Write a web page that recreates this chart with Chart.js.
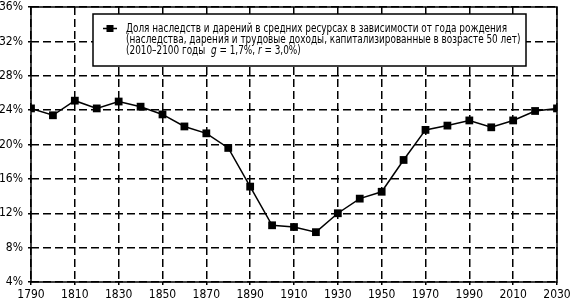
<!DOCTYPE html>
<html>
<head>
<meta charset="utf-8">
<script src="https://cdn.jsdelivr.net/npm/chart.js@4"></script>
<style>
  html, body { margin: 0; padding: 0; background: #fff; }
  #wrap { width: 570px; height: 304px; }
</style>
</head>
<body>
<div id="wrap"><canvas id="chart" width="570" height="304"></canvas></div>
<script>
// Birth cohort years and share of inheritance in total resources (%)
const years = [1790, 1800, 1810, 1820, 1830, 1840, 1850, 1860, 1870, 1880, 1890, 1900, 1910,
  1920, 1930, 1940, 1950, 1960, 1970, 1980, 1990, 2000, 2010, 2020, 2030];
const shares = [24.2, 23.4, 25.1, 24.2, 25.0, 24.4, 23.5, 22.1, 21.3, 19.6, 15.1, 10.6, 10.4,
  9.8, 12.0, 13.7, 14.5, 18.2, 21.7, 22.2, 22.8, 22.0, 22.8, 23.9, 24.2];
const xTicks = [1790, 1810, 1830, 1850, 1870, 1890, 1910, 1930, 1950, 1970, 1990, 2010, 2030];
const yTicks = [4, 8, 12, 16, 20, 24, 28, 32, 36];

const legendLines = [
  'Доля наследств и дарений в средних ресурсах в зависимости от года рождения',
  '(наследства, дарения и трудовые доходы, капитализированные в возрасте 50 лет)'
];
// third legend line, with italic symbols
const legendLine3 = [
  ['(2010–2100 годы  ', false], ['g', true], [' = 1,7%, ', false], ['r', true], [' = 3,0%)', false]
];

const FONT = "'Liberation Sans Narrow', 'DejaVu Sans Condensed', sans-serif";

// Solid frame round the plot area
const framePlugin = {
  id: 'frame',
  beforeDatasetsDraw(chart) {
    const a = chart.chartArea, ctx = chart.ctx;
    ctx.save();
    ctx.strokeStyle = '#000';
    ctx.lineWidth = 1.5;
    ctx.strokeRect(a.left, a.top, a.right - a.left, a.bottom - a.top);
    ctx.restore();
  }
};

// Boxed legend with three lines of text
const boxLegendPlugin = {
  id: 'boxLegend',
  afterDatasetsDraw(chart) {
    const ctx = chart.ctx;
    const bx = 93, by = 14, bw = 433, bh = 52;
    ctx.save();
    ctx.fillStyle = '#fff';
    ctx.fillRect(bx, by, bw, bh);
    ctx.strokeStyle = '#000';
    ctx.lineWidth = 1.5;
    ctx.strokeRect(bx, by, bw, bh);

    // marker
    const my = 28.5;
    ctx.beginPath();
    ctx.moveTo(103, my);
    ctx.lineTo(117, my);
    ctx.lineWidth = 1.5;
    ctx.stroke();
    ctx.fillStyle = '#000';
    ctx.fillRect(106.5, my - 3.5, 7, 7);

    // text, condensed to match the reference width
    ctx.font = '13px ' + FONT;
    const sx = 381 / ctx.measureText(legendLines[0]).width;
    ctx.translate(126, 0);
    ctx.scale(sx, 1);
    ctx.textBaseline = 'middle';
    ctx.fillStyle = '#000';
    ctx.fillText(legendLines[0], 0, 28.5);
    ctx.fillText(legendLines[1], 0, 39.5);
    let x = 0;
    legendLine3.forEach(([txt, it]) => {
      ctx.font = (it ? 'italic ' : '') + '13px ' + FONT;
      ctx.fillText(txt, x, 50.5);
      x += ctx.measureText(txt).width;
    });
    ctx.restore();
  }
};

const ctx = document.getElementById('chart').getContext('2d');
new Chart(ctx, {
  type: 'line',
  data: {
    datasets: [{
      label: legendLines[0],
      data: years.map((y, i) => ({ x: y, y: shares[i] })),
      borderColor: '#000',
      backgroundColor: '#000',
      borderWidth: 1.5,
      pointStyle: 'rect',
      pointRadius: 5.5,
      pointBorderWidth: 0,
      tension: 0
    }]
  },
  options: {
    responsive: false,
    animation: false,
    layout: { padding: { left: 0, right: 13, top: 7, bottom: 0 } },
    plugins: {
      legend: { display: false },
      tooltip: { enabled: false }
    },
    scales: {
      x: {
        type: 'linear',
        min: 1790,
        max: 2030,
        afterBuildTicks: s => { s.ticks = xTicks.map(v => ({ value: v })); },
        afterFit: s => {
          s.height = 22;
          s.paddingLeft = 0; s.paddingRight = 0;
        },
        ticks: {
          color: '#000',
          padding: 3,
          maxRotation: 0,
          font: { family: FONT, size: 12 },
          callback: v => String(v)
        },
        grid: {
          color: '#000',
          lineWidth: 1.5,
          tickLength: 3,
          tickBorderDash: []
        },
        border: { display: false, dash: [8, 4] }
      },
      y: {
        min: 4,
        max: 36,
        afterBuildTicks: s => { s.ticks = yTicks.map(v => ({ value: v })); },
        afterFit: s => {
          s.width = 31;
          s.paddingTop = 0; s.paddingBottom = 0;
        },
        ticks: {
          color: '#000',
          padding: 5,
          font: { family: FONT, size: 12 },
          callback: v => v + '%'
        },
        grid: {
          color: '#000',
          lineWidth: 1.5,
          tickLength: 3,
          tickBorderDash: []
        },
        border: { display: false, dash: [8, 4] }
      }
    }
  },
  plugins: [framePlugin, boxLegendPlugin]
});
</script>
</body>
</html>
